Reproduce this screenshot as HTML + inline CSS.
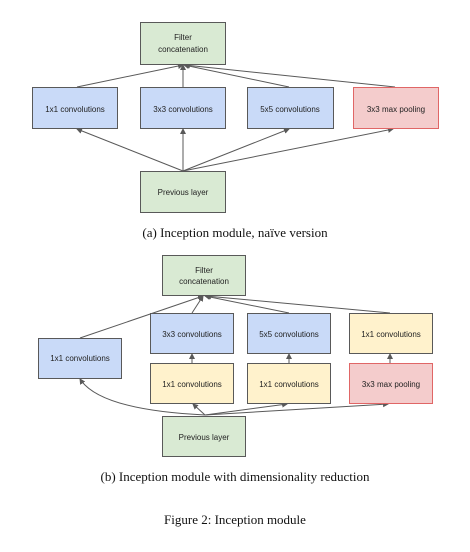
<!DOCTYPE html>
<html><head><style>
body{margin:0;background:#fff;width:470px;height:547px;overflow:hidden}
</style></head><body>
<svg width="470" height="547" xmlns="http://www.w3.org/2000/svg" font-family="Liberation Sans, sans-serif">
<defs><marker id="a" markerWidth="6" markerHeight="6" refX="5" refY="3" orient="auto" markerUnits="userSpaceOnUse"><path d="M0,0L6,3L0,6z" fill="#595959"/></marker></defs>
<g stroke="#595959" stroke-width="1" fill="none" marker-end="url(#a)">
<line x1="77" y1="87" x2="183" y2="65"/><line x1="183" y1="87" x2="183" y2="65"/>
<line x1="289" y1="87" x2="184" y2="65"/><line x1="395" y1="87" x2="185" y2="65"/>
<line x1="183" y1="171" x2="77" y2="129"/><line x1="183" y1="171" x2="183" y2="129"/>
<line x1="183" y1="171" x2="289" y2="129"/><line x1="183" y1="171" x2="393" y2="129"/>
<line x1="80" y1="338" x2="203" y2="296"/><line x1="192" y1="313" x2="203" y2="296"/>
<line x1="289" y1="313" x2="205" y2="296"/><line x1="390" y1="313" x2="206" y2="296"/>
<line x1="192" y1="363" x2="192" y2="354"/><line x1="289" y1="363" x2="289" y2="354"/><line x1="390" y1="363" x2="390" y2="354"/>
<path d="M205,415 Q100,410 80,379"/><line x1="205" y1="415" x2="193" y2="404"/>
<line x1="205" y1="415" x2="287" y2="404"/><line x1="205" y1="415" x2="388" y2="404"/>
</g>
<g stroke-width="1" font-size="8" fill="#222" text-anchor="middle">
<rect x="140.5" y="22.5" width="85" height="42" fill="#d9ead3" stroke="#595959"/>
<rect x="32.5" y="87.5" width="85" height="41" fill="#c9daf8" stroke="#595959"/>
<rect x="140.5" y="87.5" width="85" height="41" fill="#c9daf8" stroke="#595959"/>
<rect x="247.5" y="87.5" width="86" height="41" fill="#c9daf8" stroke="#595959"/>
<rect x="353.5" y="87.5" width="85" height="41" fill="#f4cccc" stroke="#e06666"/>
<rect x="140.5" y="171.5" width="85" height="41" fill="#d9ead3" stroke="#595959"/>
<rect x="162.5" y="255.5" width="83" height="40" fill="#d9ead3" stroke="#595959"/>
<rect x="38.5" y="338.5" width="83" height="40" fill="#c9daf8" stroke="#595959"/>
<rect x="150.5" y="313.5" width="83" height="40" fill="#c9daf8" stroke="#595959"/>
<rect x="247.5" y="313.5" width="83" height="40" fill="#c9daf8" stroke="#595959"/>
<rect x="349.5" y="313.5" width="83" height="40" fill="#fff2cc" stroke="#595959"/>
<rect x="150.5" y="363.5" width="83" height="40" fill="#fff2cc" stroke="#595959"/>
<rect x="247.5" y="363.5" width="83" height="40" fill="#fff2cc" stroke="#595959"/>
<rect x="349.5" y="363.5" width="83" height="40" fill="#f4cccc" stroke="#e06666"/>
<rect x="162.5" y="416.5" width="83" height="40" fill="#d9ead3" stroke="#595959"/>
<g stroke="none">
<text x="183" y="40">Filter</text><text x="183" y="52">concatenation</text>
<text x="75" y="112">1x1 convolutions</text><text x="183" y="112">3x3 convolutions</text>
<text x="290" y="112">5x5 convolutions</text><text x="396" y="112">3x3 max pooling</text>
<text x="183" y="195">Previous layer</text>
<text x="204" y="273">Filter</text><text x="204" y="284">concatenation</text>
<text x="80" y="361">1x1 convolutions</text>
<text x="192" y="337">3x3 convolutions</text><text x="289" y="337">5x5 convolutions</text><text x="391" y="337">1x1 convolutions</text>
<text x="192" y="387">1x1 convolutions</text><text x="289" y="387">1x1 convolutions</text><text x="391" y="387">3x3 max pooling</text>
<text x="204" y="440">Previous layer</text>
</g></g>
<g font-family="Liberation Serif, serif" font-size="13" fill="#111" text-anchor="middle">
<text x="235" y="237">(a)  Inception module, naïve version</text>
<text x="235" y="481">(b)  Inception module with dimensionality reduction</text>
<text x="235" y="524">Figure 2: Inception module</text>
</g>
</svg>
</body></html>
